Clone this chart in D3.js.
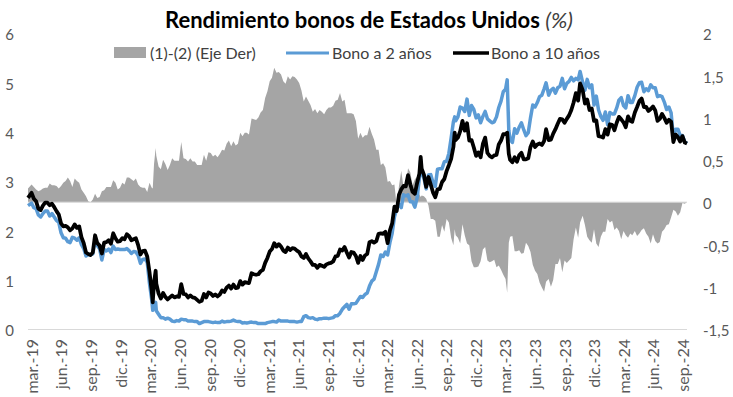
<!DOCTYPE html>
<html>
<head>
<meta charset="utf-8">
<script src="https://cdn.jsdelivr.net/npm/d3@7"></script>
<style>
  body { margin: 0; background: #fff; }
  svg { font-family: Lato, "Open Sans", sans-serif; }
</style>
</head>
<body>
<svg id="chart" width="733" height="397"></svg>
<script>
// fechas semanales (aprox.) y rendimientos
const fechas = [
  "2019-02-18",
  "2019-03-01","2019-03-08","2019-03-15","2019-03-22","2019-03-29",
  "2019-04-05","2019-04-12","2019-04-19","2019-04-26",
  "2019-05-03","2019-05-10","2019-05-17","2019-05-24","2019-05-31",
  "2019-06-07","2019-06-14","2019-06-21","2019-06-28",
  "2019-07-05","2019-07-12","2019-07-19","2019-07-26",
  "2019-08-02","2019-08-09","2019-08-16","2019-08-23","2019-08-30",
  "2019-09-06","2019-09-13","2019-09-20","2019-09-27",
  "2019-10-04","2019-10-11","2019-10-18","2019-10-25",
  "2019-11-01","2019-11-08","2019-11-15","2019-11-22","2019-11-29",
  "2019-12-06","2019-12-13","2019-12-20","2019-12-27",
  "2020-01-03","2020-01-10","2020-01-17","2020-01-24","2020-01-31",
  "2020-02-07","2020-02-14","2020-02-21","2020-02-28",
  "2020-03-06","2020-03-09","2020-03-13","2020-03-18","2020-03-20","2020-03-27",
  "2020-04-03","2020-04-10","2020-04-17","2020-04-24",
  "2020-05-01","2020-05-08","2020-05-15","2020-05-22","2020-05-29",
  "2020-06-05","2020-06-12","2020-06-19","2020-06-26",
  "2020-07-03","2020-07-10","2020-07-17","2020-07-24","2020-07-31",
  "2020-08-07","2020-08-14","2020-08-21","2020-08-28",
  "2020-09-04","2020-09-11","2020-09-18","2020-09-25",
  "2020-10-02","2020-10-09","2020-10-16","2020-10-23","2020-10-30",
  "2020-11-06","2020-11-13","2020-11-20","2020-11-27",
  "2020-12-04","2020-12-11","2020-12-18","2020-12-24","2020-12-31",
  "2021-01-08","2021-01-15","2021-01-22","2021-01-29",
  "2021-02-05","2021-02-12","2021-02-19","2021-02-26",
  "2021-03-05","2021-03-12","2021-03-19","2021-03-26",
  "2021-04-02","2021-04-09","2021-04-16","2021-04-23","2021-04-30",
  "2021-05-07","2021-05-14","2021-05-21","2021-05-28",
  "2021-06-04","2021-06-11","2021-06-18","2021-06-25",
  "2021-07-02","2021-07-09","2021-07-16","2021-07-23","2021-07-30",
  "2021-08-06","2021-08-13","2021-08-20","2021-08-27",
  "2021-09-03","2021-09-10","2021-09-17","2021-09-24",
  "2021-10-01","2021-10-08","2021-10-15","2021-10-22","2021-10-29",
  "2021-11-05","2021-11-12","2021-11-19","2021-11-26",
  "2021-12-03","2021-12-10","2021-12-17","2021-12-24","2021-12-31",
  "2022-01-07","2022-01-14","2022-01-21","2022-01-28",
  "2022-02-04","2022-02-11","2022-02-18","2022-02-25",
  "2022-03-04","2022-03-11","2022-03-18","2022-03-25",
  "2022-04-01","2022-04-08","2022-04-15","2022-04-22","2022-04-29",
  "2022-05-06","2022-05-13","2022-05-20","2022-05-27",
  "2022-06-03","2022-06-10","2022-06-14","2022-06-17","2022-06-24",
  "2022-07-01","2022-07-08","2022-07-15","2022-07-22","2022-07-29",
  "2022-08-05","2022-08-12","2022-08-19","2022-08-26",
  "2022-09-02","2022-09-09","2022-09-16","2022-09-23","2022-09-27","2022-09-30",
  "2022-10-07","2022-10-14","2022-10-21","2022-10-28",
  "2022-11-04","2022-11-11","2022-11-18","2022-11-25",
  "2022-12-02","2022-12-09","2022-12-16","2022-12-23","2022-12-30",
  "2023-01-06","2023-01-13","2023-01-20","2023-01-27",
  "2023-02-03","2023-02-10","2023-02-17","2023-02-24",
  "2023-03-03","2023-03-08","2023-03-13","2023-03-17","2023-03-24","2023-03-31",
  "2023-04-07","2023-04-14","2023-04-21","2023-04-28",
  "2023-05-05","2023-05-12","2023-05-19","2023-05-26",
  "2023-06-02","2023-06-09","2023-06-16","2023-06-23","2023-06-30",
  "2023-07-06","2023-07-14","2023-07-21","2023-07-28",
  "2023-08-04","2023-08-11","2023-08-18","2023-08-25",
  "2023-09-01","2023-09-08","2023-09-15","2023-09-22","2023-09-29",
  "2023-10-06","2023-10-13","2023-10-19","2023-10-27",
  "2023-11-03","2023-11-10","2023-11-17","2023-11-24",
  "2023-12-01","2023-12-08","2023-12-15","2023-12-22","2023-12-29",
  "2024-01-05","2024-01-12","2024-01-19","2024-01-26",
  "2024-02-02","2024-02-09","2024-02-16","2024-02-23",
  "2024-03-01","2024-03-08","2024-03-15","2024-03-22","2024-03-28",
  "2024-04-05","2024-04-12","2024-04-19","2024-04-26",
  "2024-05-03","2024-05-10","2024-05-17","2024-05-24","2024-05-31",
  "2024-06-07","2024-06-14","2024-06-21","2024-06-28",
  "2024-07-05","2024-07-12","2024-07-19","2024-07-26",
  "2024-08-02","2024-08-09","2024-08-16","2024-08-23","2024-08-30",
  "2024-09-06","2024-09-13"
];

const bono2 = [
  2.50,
  2.55,2.46,2.44,2.31,2.27,
  2.34,2.39,2.39,2.29,
  2.34,2.27,2.20,2.16,1.95,
  1.85,1.84,1.77,1.75,
  1.86,1.84,1.80,1.85,
  1.71,1.63,1.48,1.51,1.50,
  1.52,1.80,1.69,1.63,
  1.40,1.61,1.58,1.62,
  1.55,1.68,1.61,1.62,1.61,
  1.61,1.61,1.63,1.59,
  1.53,1.57,1.56,1.49,1.33,
  1.41,1.42,1.35,0.92,
  0.59,0.38,0.49,0.54,0.37,0.30,
  0.23,0.23,0.20,0.22,
  0.20,0.16,0.15,0.17,0.16,
  0.20,0.19,0.19,0.16,
  0.16,0.16,0.15,0.15,0.11,
  0.13,0.15,0.15,0.15,
  0.14,0.13,0.14,0.13,
  0.13,0.16,0.14,0.15,0.15,
  0.16,0.18,0.16,0.15,
  0.15,0.12,0.13,0.12,0.13,
  0.14,0.13,0.13,0.11,
  0.11,0.11,0.11,0.13,
  0.14,0.15,0.15,0.14,
  0.18,0.16,0.16,0.16,0.16,
  0.15,0.15,0.15,0.14,
  0.15,0.15,0.25,0.27,
  0.23,0.22,0.23,0.20,0.19,
  0.21,0.21,0.22,0.22,
  0.21,0.22,0.23,0.27,
  0.27,0.32,0.40,0.45,0.50,
  0.40,0.51,0.51,0.52,
  0.59,0.66,0.64,0.70,0.73,
  0.87,0.97,1.01,1.16,
  1.31,1.50,1.47,1.56,
  1.50,1.75,1.94,2.27,
  2.44,2.53,2.46,2.72,2.70,
  2.72,2.58,2.58,2.47,
  2.66,3.06,3.43,3.17,3.06,
  2.84,3.12,3.13,2.97,2.89,
  3.24,3.25,3.25,3.39,
  3.40,3.56,3.87,4.20,4.30,4.22,
  4.30,4.50,4.48,4.41,
  4.66,4.33,4.53,4.45,
  4.28,4.34,4.18,4.31,4.41,
  4.26,4.22,4.18,4.20,
  4.30,4.49,4.62,4.81,
  4.86,5.05,4.03,3.84,3.78,4.06,
  3.97,4.09,4.18,4.04,
  3.92,3.98,4.28,4.54,
  4.50,4.59,4.71,4.74,4.87,
  4.99,4.74,4.84,4.88,
  4.78,4.89,4.92,5.08,
  4.87,4.98,5.02,5.10,5.03,
  5.08,5.05,5.22,5.00,
  4.84,5.06,4.89,4.95,
  4.54,4.72,4.44,4.31,4.23,
  4.40,4.14,4.39,4.36,
  4.36,4.48,4.64,4.69,
  4.53,4.48,4.73,4.59,4.59,
  4.73,4.90,4.99,5.00,
  4.81,4.87,4.83,4.95,4.89,
  4.89,4.71,4.73,4.71,
  4.60,4.45,4.50,4.38,
  3.88,4.05,4.05,3.92,3.92,
  3.80,3.76
];

const bono10 = [
  2.66,
  2.76,2.64,2.59,2.44,2.41,
  2.50,2.56,2.56,2.51,
  2.54,2.47,2.39,2.32,2.14,
  2.08,2.09,2.06,2.00,
  2.04,2.12,2.05,2.08,
  1.86,1.74,1.55,1.52,1.50,
  1.55,1.90,1.74,1.69,
  1.53,1.75,1.76,1.80,
  1.73,1.94,1.84,1.77,1.78,
  1.84,1.82,1.92,1.88,
  1.80,1.82,1.84,1.70,1.51,
  1.58,1.59,1.47,1.15,
  0.76,0.54,0.94,1.18,0.92,0.72,
  0.62,0.73,0.65,0.60,
  0.64,0.68,0.64,0.66,0.65,
  0.91,0.71,0.70,0.64,
  0.68,0.64,0.63,0.59,0.55,
  0.57,0.71,0.64,0.74,
  0.72,0.67,0.70,0.66,
  0.70,0.78,0.75,0.84,0.88,
  0.82,0.90,0.83,0.84,
  0.97,0.90,0.95,0.94,0.93,
  1.13,1.11,1.10,1.11,
  1.17,1.20,1.34,1.44,
  1.57,1.62,1.74,1.67,
  1.72,1.67,1.59,1.56,1.65,
  1.60,1.64,1.63,1.59,
  1.56,1.47,1.44,1.52,
  1.43,1.37,1.30,1.30,1.24,
  1.30,1.28,1.26,1.31,
  1.33,1.34,1.37,1.47,
  1.48,1.61,1.59,1.66,1.55,
  1.45,1.56,1.55,1.48,
  1.34,1.48,1.40,1.49,1.52,
  1.76,1.78,1.75,1.78,
  1.93,1.94,1.93,1.97,
  1.74,2.00,2.14,2.48,
  2.39,2.72,2.83,2.90,2.89,
  3.12,2.93,2.78,2.74,
  2.96,3.15,3.49,3.25,3.13,
  2.88,3.08,2.93,2.77,2.67,
  2.83,2.84,2.98,3.04,
  3.20,3.32,3.45,3.69,3.98,3.83,
  3.88,4.01,4.22,4.02,
  4.17,3.82,3.83,3.68,
  3.51,3.58,3.48,3.75,3.88,
  3.57,3.51,3.48,3.52,
  3.53,3.74,3.82,3.95,
  3.95,3.98,3.55,3.43,3.38,3.48,
  3.39,3.52,3.57,3.44,
  3.44,3.46,3.69,3.80,
  3.69,3.74,3.76,3.73,3.81,
  4.05,3.83,3.84,3.96,
  4.05,4.16,4.26,4.25,
  4.18,4.26,4.33,4.44,4.59,
  4.78,4.63,4.98,4.84,
  4.57,4.65,4.44,4.47,
  4.22,4.23,3.91,3.90,3.88,
  4.05,3.94,4.15,4.14,
  4.03,4.18,4.30,4.25,
  4.19,4.09,4.31,4.22,4.20,
  4.39,4.50,4.62,4.67,
  4.50,4.50,4.42,4.46,4.51,
  4.43,4.22,4.26,4.36,
  4.28,4.18,4.24,4.20,
  3.79,3.94,3.89,3.80,3.91,
  3.78,3.76
];

const ticksIzq = [0, 1, 2, 3, 4, 5, 6];
const ticksDer = [2, 1.5, 1, 0.5, 0, -0.5, -1, -1.5];
const fechasEje = [
  "2019-03-01","2019-06-01","2019-09-01","2019-12-01",
  "2020-03-01","2020-06-01","2020-09-01","2020-12-01",
  "2021-03-01","2021-06-01","2021-09-01","2021-12-01",
  "2022-03-01","2022-06-01","2022-09-01","2022-12-01",
  "2023-03-01","2023-06-01","2023-09-01","2023-12-01",
  "2024-03-01","2024-06-01","2024-09-01"
];
const etiquetasEje = [
  "mar.-19","jun.-19","sep.-19","dic.-19",
  "mar.-20","jun.-20","sep.-20","dic.-20",
  "mar.-21","jun.-21","sep.-21","dic.-21",
  "mar.-22","jun.-22","sep.-22","dic.-22",
  "mar.-23","jun.-23","sep.-23","dic.-23",
  "mar.-24","jun.-24","sep.-24"
];

const parse = d3.timeParse("%Y-%m-%d");
const datos = fechas.map((f, i) => ({
  fecha: parse(f),
  dos: bono2[i],
  diez: bono10[i],
  dif: bono10[i] - bono2[i]
}));

const svg = d3.select("#chart");
const mIzq = 28, mDer = 687, mSup = 33, mInf = 329;

const x = d3.scaleTime()
  .domain(d3.extent(datos, d => d.fecha))
  .range([mIzq, mDer]);
const yIzq = d3.scaleLinear().domain([0, 6]).range([mInf, mSup]);
const yDer = d3.scaleLinear().domain([-1.5, 2]).range([mInf, mSup]);

const es = d3.formatLocale({ decimal: ",", thousands: ".", grouping: [3], currency: ["", ""], minus: "-" });
const fmt = es.format("");

// area de la diferencia (eje derecho)
svg.append("path")
  .datum(datos)
  .attr("fill", "#a5a5a5")
  .attr("d", d3.area()
    .x(d => x(d.fecha))
    .y0(yDer(0))
    .y1(d => yDer(d.dif)));

svg.append("line")
  .attr("x1", mIzq).attr("x2", mDer)
  .attr("y1", yDer(0)).attr("y2", yDer(0))
  .attr("stroke", "#d9d9d9").attr("stroke-width", 1);

svg.append("line")
  .attr("x1", mIzq).attr("x2", mDer)
  .attr("y1", mInf + 0.5).attr("y2", mInf + 0.5)
  .attr("stroke", "#d9d9d9").attr("stroke-width", 1);

const linea = key => d3.line()
  .x(d => x(d.fecha))
  .y(d => yIzq(d[key]));

svg.append("path")
  .datum(datos)
  .attr("fill", "none")
  .attr("stroke", "#5b9bd5")
  .attr("stroke-width", 3.5)
  .attr("stroke-linejoin", "round")
  .attr("d", linea("dos"));

svg.append("path")
  .datum(datos)
  .attr("fill", "none")
  .attr("stroke", "#000")
  .attr("stroke-width", 3.8)
  .attr("stroke-linejoin", "round")
  .attr("d", linea("diez"));

// ejes
const ejeIzq = svg.append("g")
  .attr("transform", "translate(14,0)")
  .call(d3.axisLeft(yIzq).tickValues(ticksIzq).tickFormat(fmt).tickSize(0).tickPadding(0));
const ejeDer = svg.append("g")
  .attr("transform", "translate(703,0)")
  .call(d3.axisRight(yDer).tickValues(ticksDer).tickFormat(fmt).tickSize(0).tickPadding(0));
const ejeX = svg.append("g")
  .attr("transform", "translate(0," + mInf + ")")
  .call(d3.axisBottom(x)
    .tickValues(fechasEje.map(parse))
    .tickFormat((d, i) => etiquetasEje[i])
    .tickSize(0));

[ejeIzq, ejeDer, ejeX].forEach(g => {
  g.select(".domain").remove();
  g.selectAll("text")
    .attr("fill", "#595959")
    .style("font-size", "15px")
    .style("font-family", "Lato, 'Open Sans', sans-serif");
});
ejeIzq.selectAll("text").attr("dy", "0.45em");
ejeDer.selectAll("text").attr("dy", "0.45em");
ejeX.selectAll("text")
  .style("font-size", "16px")
  .attr("transform", "rotate(-90)")
  .attr("x", -10)
  .attr("y", 0)
  .attr("dy", "0.35em")
  .style("text-anchor", "end");

// titulo
const titulo = svg.append("text")
  .attr("x", 369).attr("y", 28)
  .attr("text-anchor", "middle")
  .style("font-size", "22px")
  .attr("fill", "#000");
titulo.append("tspan").style("font-weight", "bold").text("Rendimiento bonos de Estados Unidos ");
titulo.append("tspan").style("font-style", "italic").attr("fill", "#404040").text("(%)");

// leyenda
const ley = svg.append("g").style("font-size", "16px").attr("fill", "#404040");
ley.append("rect").attr("x", 114).attr("y", 47).attr("width", 32).attr("height", 11).attr("fill", "#a5a5a5");
ley.append("text").attr("x", 150).attr("y", 59).text("(1)-(2) (Eje Der)");
ley.append("line").attr("x1", 286).attr("x2", 329).attr("y1", 53).attr("y2", 53)
  .attr("stroke", "#5b9bd5").attr("stroke-width", 3);
ley.append("text").attr("x", 332).attr("y", 59).text("Bono a 2 años");
ley.append("line").attr("x1", 453).attr("x2", 489).attr("y1", 53).attr("y2", 53)
  .attr("stroke", "#000").attr("stroke-width", 3.5);
ley.append("text").attr("x", 491).attr("y", 59).text("Bono a 10 años");
</script>
</body>
</html>
